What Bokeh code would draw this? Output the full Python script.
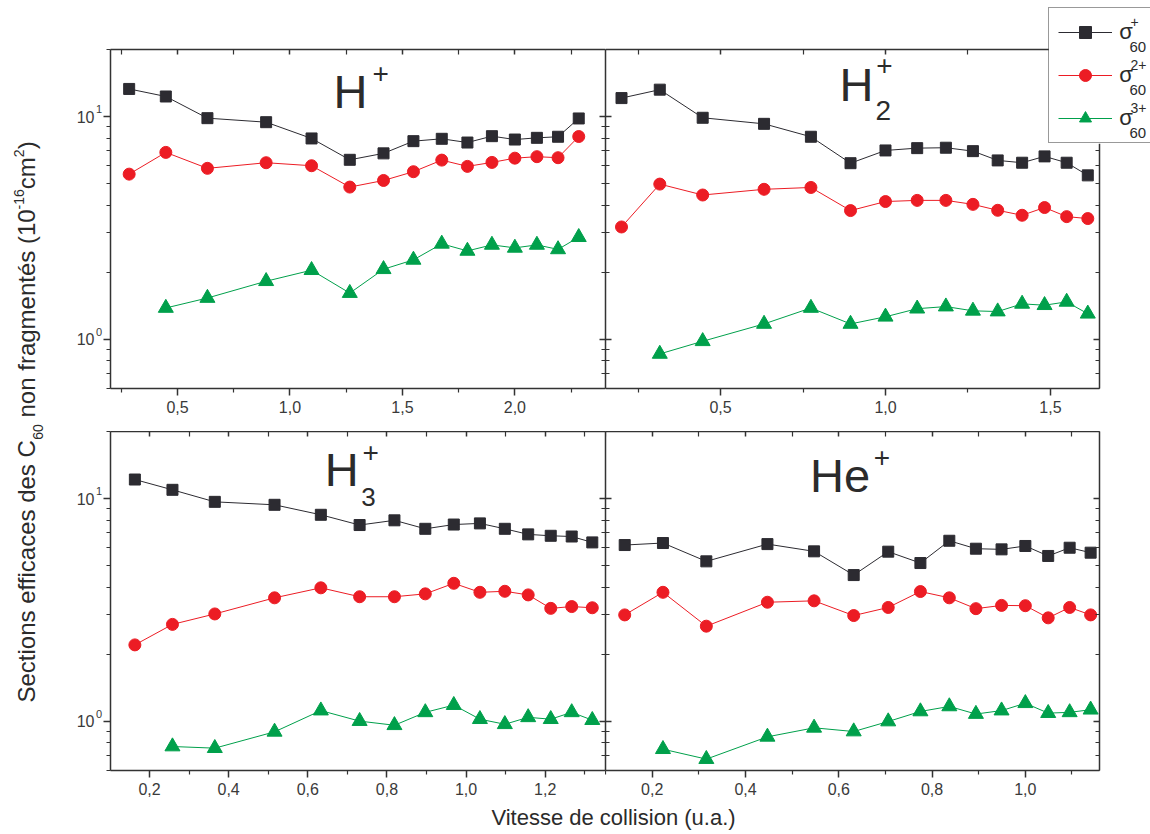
import math
from bokeh.plotting import figure
from bokeh.models import (Range1d, FixedTicker, LinearAxis, LogAxis, Legend, LegendItem,
                          CustomJSTickFormatter, GridBox)
from bokeh.layouts import row, column
from bokeh.embed import file_html
from bokeh.resources import INLINE
from bokeh.core.properties import value

# ---------------- data ----------------
# H+ projectile
hp_v = [0.285, 0.448, 0.633, 0.894, 1.096, 1.266, 1.416, 1.549, 1.675, 1.789, 1.898, 2.000, 2.098, 2.192, 2.284]
hp_s1 = [13.3, 12.3, 9.83, 9.43, 7.97, 6.39, 6.83, 7.75, 7.94, 7.64, 8.16, 7.88, 8.02, 8.11, 9.80]
hp_s2 = [5.51, 6.90, 5.85, 6.20, 6.01, 4.82, 5.16, 5.65, 6.37, 5.97, 6.22, 6.50, 6.60, 6.53, 8.13]
hp_v3 = [0.448, 0.633, 0.894, 1.096, 1.266, 1.416, 1.549, 1.675, 1.789, 1.898, 2.000, 2.098, 2.192, 2.284]
hp_s3 = [1.38, 1.53, 1.82, 2.04, 1.61, 2.06, 2.27, 2.68, 2.49, 2.65, 2.57, 2.65, 2.53, 2.87]

# H2+ projectile
h2_v = [0.200, 0.316, 0.446, 0.632, 0.774, 0.894, 1.000, 1.096, 1.183, 1.265, 1.340, 1.414, 1.482, 1.549, 1.613]
h2_s1 = [12.1, 13.2, 9.87, 9.27, 8.11, 6.17, 7.04, 7.21, 7.24, 6.99, 6.35, 6.20, 6.62, 6.20, 5.44]
h2_s2 = [3.19, 4.97, 4.44, 4.71, 4.80, 3.78, 4.15, 4.20, 4.20, 4.03, 3.79, 3.60, 3.90, 3.55, 3.48]
h2_v3 = [0.316, 0.446, 0.632, 0.774, 0.894, 1.000, 1.096, 1.183, 1.265, 1.340, 1.414, 1.482, 1.549, 1.613]
h2_s3 = [0.858, 0.978, 1.17, 1.38, 1.17, 1.26, 1.37, 1.40, 1.34, 1.33, 1.44, 1.42, 1.47, 1.30]

# H3+ projectile
h3_v = [0.163, 0.258, 0.365, 0.516, 0.633, 0.731, 0.819, 0.897, 0.969, 1.035, 1.098, 1.157, 1.214, 1.267, 1.319]
h3_s1 = [12.17, 10.94, 9.66, 9.37, 8.45, 7.60, 7.98, 7.31, 7.64, 7.73, 7.31, 6.90, 6.80, 6.75, 6.35]
h3_s2 = [2.20, 2.72, 3.03, 3.58, 3.97, 3.62, 3.62, 3.73, 4.16, 3.79, 3.83, 3.69, 3.21, 3.27, 3.23]
h3_v3 = [0.258, 0.365, 0.516, 0.633, 0.731, 0.819, 0.897, 0.969, 1.035, 1.098, 1.157, 1.214, 1.267, 1.319]
h3_s3 = [0.769, 0.756, 0.895, 1.115, 1.00, 0.958, 1.095, 1.18, 1.02, 0.968, 1.04, 1.02, 1.095, 1.01]

# He+ projectile
he_v = [0.141, 0.223, 0.316, 0.447, 0.547, 0.632, 0.706, 0.775, 0.837, 0.894, 0.949, 1.000, 1.049, 1.095, 1.140]
he_s1 = [6.18, 6.31, 5.22, 6.24, 5.79, 4.53, 5.77, 5.13, 6.46, 5.95, 5.91, 6.12, 5.52, 6.01, 5.71]
he_s2 = [3.00, 3.79, 2.67, 3.42, 3.47, 2.98, 3.24, 3.82, 3.58, 3.20, 3.31, 3.30, 2.91, 3.24, 3.00]
he_v3 = [0.223, 0.316, 0.447, 0.547, 0.632, 0.706, 0.775, 0.837, 0.894, 0.949, 1.000, 1.049, 1.095, 1.140]
he_s3 = [0.748, 0.675, 0.850, 0.933, 0.898, 0.996, 1.105, 1.164, 1.076, 1.115, 1.203, 1.086, 1.095, 1.125]

# axis ticks
hp_major = [0.5, 1.0, 1.5, 2.0]
hp_minor = [0.25, 0.75, 1.25, 1.75, 2.25]
h2_major = [0.5, 1.0, 1.5]
h2_minor = [0.25, 0.75, 1.25]
h3_major = [0.2, 0.4, 0.6, 0.8, 1.0, 1.2]
h3_minor = [0.1, 0.3, 0.5, 0.7, 0.9, 1.1, 1.3]
he_major = [0.2, 0.4, 0.6, 0.8, 1.0]
he_minor = [0.1, 0.3, 0.5, 0.7, 0.9, 1.1]
y_major = [1, 10]
y_exponents = ["0", "1"]
y_minor = [0.6, 0.7, 0.8, 0.9, 2, 3, 4, 5, 6, 7, 8, 9, 20]
Y_LO, Y_HI = 0.6, 20.0

x_label = "Vitesse de collision (u.a.)"
legend_sups = ["+", "2+", "3+"]

# ---------------- style / geometry ----------------
FONT = "Liberation Sans"
BLACK = "#2c2b31"
RED = "#ec1c24"
GREEN = "#00a04b"
AX = "#333333"
TXT = "#3a3a3a"
TITLE = "#2b2b2b"
BASE_FIX = 0.38   # em offset so that the anchor sits on the alphabetic baseline

PAGE_W, PAGE_H = 1150, 834
YL_W = 70
FRAME_W_L, FRAME_W_R, FRAME_H = 495, 494, 339
LEFT_B, RIGHT_B, TOP_B, MID_B, BOT_B = 40, 51, 49, 43, 32
XL_H = 32


def style_axis(ax, tick_out, tick_in, minor_out, minor_in, labels):
    ax.axis_line_color = AX
    ax.axis_line_width = 1.5
    ax.major_tick_line_color = AX
    ax.major_tick_line_width = 1.5
    ax.minor_tick_line_color = AX
    ax.minor_tick_line_width = 1.2
    ax.major_tick_out = tick_out
    ax.major_tick_in = tick_in
    ax.minor_tick_out = minor_out
    ax.minor_tick_in = minor_in
    if labels:
        ax.major_label_text_font = FONT
        ax.major_label_text_font_size = "16px"
        ax.major_label_text_color = TXT
    else:
        ax.formatter = CustomJSTickFormatter(code="return '';")
        ax.major_label_text_font_size = "1px"
        ax.major_label_standoff = 0


def panel(xr, major, minor, w, h, bl, br, bt, bb, left_col):
    p = figure(width=w, height=h, x_range=Range1d(xr[0], xr[1]), y_range=Range1d(Y_LO, Y_HI),
               y_axis_type="log", x_axis_location=None, y_axis_location=None,
               output_backend="svg", toolbar_location=None,
               min_border_left=bl, min_border_right=br, min_border_top=bt, min_border_bottom=bb)
    p.outline_line_color = None
    p.grid.visible = False
    p.background_fill_color = "white"
    p.border_fill_color = "white"

    bottom = LinearAxis(ticker=FixedTicker(ticks=major, minor_ticks=minor),
                        formatter=CustomJSTickFormatter(code="return tick.toFixed(1).replace('.', ',');"))
    style_axis(bottom, 7, 0, 4, 0, True)
    bottom.major_label_standoff = 5
    p.add_layout(bottom, "below")

    top = LinearAxis(ticker=FixedTicker(ticks=major, minor_ticks=minor))
    style_axis(top, 0, 5, 0, 5, False)
    p.add_layout(top, "above")

    left = LogAxis(ticker=FixedTicker(ticks=y_major, minor_ticks=y_minor),
                   formatter=CustomJSTickFormatter(code="return '10';"))
    if left_col:
        style_axis(left, 7, 0, 4, 0, True)
        left.major_label_standoff = 9
    else:
        style_axis(left, 0, 6, 0, 4, False)
    p.add_layout(left, "left")

    right = LogAxis(ticker=FixedTicker(ticks=y_major, minor_ticks=y_minor))
    style_axis(right, 0, 6, 0, 4, False)
    p.add_layout(right, "right")
    return p


def series(p, v, s1, s2, v3, s3):
    p.line(v, s1, line_color=BLACK, line_width=1)
    p.scatter(v, s1, marker="square", size=11, fill_color=BLACK, line_color=BLACK)
    p.line(v, s2, line_color=RED, line_width=1)
    p.scatter(v, s2, marker="circle", size=12, fill_color=RED, line_color=RED)
    p.line(v3, s3, line_color=GREEN, line_width=1)
    p.scatter(v3, s3, marker="triangle", size=15, fill_color=GREEN, line_color=GREEN)


def title(p, xr, frame_left, frame_w, frame_bottom, px, py, text, fs):
    # convert a pixel position (baseline-left) in the page to this panel's data coordinates
    py = py - BASE_FIX * fs
    xd = xr[0] + (px - frame_left) / frame_w * (xr[1] - xr[0])
    lo, hi = math.log10(Y_LO), math.log10(Y_HI)
    yd = 10 ** (lo + (frame_bottom - py) / FRAME_H * (hi - lo))
    p.text(x=[xd], y=[yd], text=[text], text_font=value(FONT), text_font_size=f"{fs}px",
           text_color=TITLE, text_baseline="alphabetic", text_align="left")


hp_xr = (0.202, 2.403)
h2_xr = (0.1515, 1.6485)
h3_xr = (0.1014, 1.3524)
he_xr = (0.0998, 1.159)

tl = panel(hp_xr, hp_major, hp_minor, LEFT_B + FRAME_W_L, TOP_B + FRAME_H + MID_B,
           LEFT_B, 0, TOP_B, MID_B, True)
tr = panel(h2_xr, h2_major, h2_minor, FRAME_W_R + RIGHT_B, TOP_B + FRAME_H + MID_B,
           0, RIGHT_B, TOP_B, MID_B, False)
bl = panel(h3_xr, h3_major, h3_minor, LEFT_B + FRAME_W_L, FRAME_H + BOT_B,
           LEFT_B, 0, 0, BOT_B, True)
br = panel(he_xr, he_major, he_minor, FRAME_W_R + RIGHT_B, FRAME_H + BOT_B,
           0, RIGHT_B, 0, BOT_B, False)

series(tl, hp_v, hp_s1, hp_s2, hp_v3, hp_s3)
series(tr, h2_v, h2_s1, h2_s2, h2_v3, h2_s3)
series(bl, h3_v, h3_s1, h3_s2, h3_v3, h3_s3)
series(br, he_v, he_s1, he_s2, he_v3, he_s3)

# panel titles
T_TOP_BOTTOM = TOP_B + FRAME_H            # 388
B_BOTTOM = TOP_B + FRAME_H + MID_B + FRAME_H  # 770
L_LEFT = YL_W + LEFT_B                    # 110
R_LEFT = L_LEFT + FRAME_W_L               # 605
title(tl, hp_xr, L_LEFT, FRAME_W_L, T_TOP_BOTTOM, 333, 109, "H", 47)
title(tl, hp_xr, L_LEFT, FRAME_W_L, T_TOP_BOTTOM, 372, 83.3, "+", 28)
title(tr, h2_xr, R_LEFT, FRAME_W_R, T_TOP_BOTTOM, 839, 101.7, "H", 47)
title(tr, h2_xr, R_LEFT, FRAME_W_R, T_TOP_BOTTOM, 875.7, 76.1, "+", 28)
title(tr, h2_xr, R_LEFT, FRAME_W_R, T_TOP_BOTTOM, 875, 120.7, "2", 28)
title(bl, h3_xr, L_LEFT, FRAME_W_L, B_BOTTOM, 324.3, 487.3, "H", 47)
title(bl, h3_xr, L_LEFT, FRAME_W_L, B_BOTTOM, 362, 462.6, "+", 28)
title(bl, h3_xr, L_LEFT, FRAME_W_L, B_BOTTOM, 360.7, 506.7, "3", 26)
title(br, he_xr, R_LEFT, FRAME_W_R, B_BOTTOM, 809.6, 493.3, "He", 47)
title(br, he_xr, R_LEFT, FRAME_W_R, B_BOTTOM, 873.3, 467.3, "+", 28)

# ---------------- y label strip ----------------
H_TOTAL = (TOP_B + FRAME_H + MID_B) + (FRAME_H + BOT_B)
yl = figure(width=YL_W, height=H_TOTAL, x_range=Range1d(0, YL_W), y_range=Range1d(0, H_TOTAL),
            x_axis_location=None, y_axis_location=None, output_backend="svg",
            toolbar_location=None, min_border=0)
yl.outline_line_color = None
yl.grid.visible = False

W = {' ': 278, 'S': 667, 'e': 556, 'c': 500, 't': 278, 'i': 222, 'o': 556, 'n': 556, 's': 500,
     'f': 278, 'a': 556, 'd': 556, 'C': 722, 'r': 333, 'g': 556, 'm': 833, 'é': 556, '(': 333,
     ')': 333, '0': 556, '1': 556, '2': 556, '6': 556, '-': 333}
pieces = [("Sections efficaces des C", 24, 0), ("60", 14, 8), (" non fragmentés (10", 24, 0),
          ("-16", 14, -11), ("cm", 24, 0), ("2", 14, -11), (")", 24, 0)]
ypos = H_TOTAL - 702
for txt, fs, shift in pieces:
    lead = len(txt) - len(txt.lstrip(" "))
    ypos += lead * W[' '] * fs / 1000.0
    body = txt.lstrip(" ")
    yl.text(x=[35 + shift - BASE_FIX * fs], y=[ypos], text=[body], angle=math.pi / 2,
            text_font=value(FONT), text_font_size=f"{fs}px", text_color=TITLE,
            text_baseline="alphabetic", text_align="left")
    ypos += sum(W.get(ch, 556) for ch in body) * fs / 1000.0

# ---------------- x label strip ----------------
XW = YL_W + LEFT_B + FRAME_W_L + FRAME_W_R + RIGHT_B
xl = figure(width=XW, height=XL_H, x_range=Range1d(0, XW), y_range=Range1d(0, XL_H),
            x_axis_location=None, y_axis_location=None, output_backend="svg",
            toolbar_location=None, min_border=0)
xl.outline_line_color = None
xl.grid.visible = False
xl.text(x=[613], y=[XL_H - (825.5 - H_TOTAL) + BASE_FIX * 22], text=[x_label], text_font=value(FONT),
        text_font_size="22px", text_color=TITLE, text_baseline="alphabetic", text_align="center")

main = column(row(yl, column(row(tl, tr), row(bl, br))), xl)

# ---------------- transparent overlay: legend and tick exponents ----------------
ov = figure(width=PAGE_W, height=PAGE_H, x_range=Range1d(0, PAGE_W), y_range=Range1d(PAGE_H, 0),
            x_axis_location=None, y_axis_location=None, output_backend="svg",
            toolbar_location=None, min_border=0)
ov.outline_line_color = None
ov.grid.visible = False
ov.background_fill_color = None
ov.border_fill_color = None

# exponents of the "10" tick labels on the left axes (positions follow the log scale)
lo, hi = math.log10(Y_LO), math.log10(Y_HI)
for frame_bottom in (T_TOP_BOTTOM, B_BOTTOM):
    for t, e in zip(y_major, y_exponents):
        ty = frame_bottom - (math.log10(t) - lo) / (hi - lo) * FRAME_H
        ov.text(x=[95.5], y=[ty - 3 - BASE_FIX * 11], text=[e], text_font=value(FONT),
                text_font_size="11px", text_color=TXT, text_baseline="alphabetic", text_align="left")

LEG_X, LEG_TOP, LEG_BOTTOM, LEG_W = 1048.3, 9.3, 143.3, 99
PAD, SPACING, GLYPH_H = 9, 13, 30

# white legend panel (drawn as a glyph so that the small indices can sit on top of it)
ov.quad(left=[LEG_X], right=[LEG_X + LEG_W], top=[LEG_TOP], bottom=[LEG_BOTTOM],
        fill_color="white", line_color=None)

items = []
for color, marker, size in [(BLACK, "square", 11), (RED, "circle", 12), (GREEN, "triangle", 15)]:
    # off-canvas points: they only provide the legend samples
    lr = ov.line(x=[-500, -400], y=[-500, -500], line_color=color, line_width=1)
    sr = ov.scatter(x=[-500], y=[-500], marker=marker, size=size, fill_color=color, line_color=color)
    items.append(LegendItem(label="σ", renderers=[lr, sr]))

for i, sup in enumerate(legend_sups):
    L = LEG_TOP + PAD + GLYPH_H / 2 + (GLYPH_H + SPACING) * i
    ov.text(x=[1130], y=[L - 6 - BASE_FIX * 14], text=[sup], text_font=value(FONT),
            text_font_size="14px", text_color=TITLE, text_baseline="alphabetic", text_align="left")
    ov.text(x=[1129], y=[L + 19 - BASE_FIX * 15], text=["60"], text_font=value(FONT),
            text_font_size="15px", text_color=TITLE, text_baseline="alphabetic", text_align="left")

legend = Legend(items=items, location=(LEG_X, PAGE_H - LEG_BOTTOM), glyph_width=54, glyph_height=GLYPH_H,
                label_width=22, label_height=20, label_standoff=7, padding=PAD, spacing=SPACING, margin=0,
                border_line_color=AX, border_line_width=1.5, background_fill_alpha=0.0,
                label_text_font=FONT, label_text_font_size="22px", label_text_color=TITLE)
ov.add_layout(legend)

root = GridBox(children=[(main, 0, 0), (ov, 0, 0)])

with open("out.html", "w") as f:
    f.write(file_html(root, INLINE))
